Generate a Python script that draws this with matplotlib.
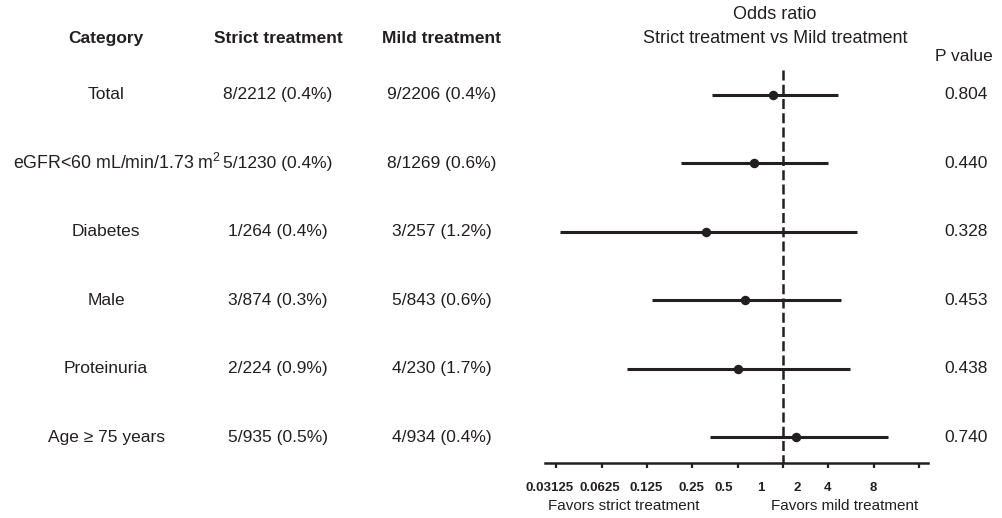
import numpy as np
import matplotlib.pyplot as plt
from matplotlib.transforms import blended_transform_factory

plt.rcParams['font.family'] = ['Liberation Sans', 'DejaVu Sans']
plt.rcParams['mathtext.default'] = 'regular'

ink = '#231f20'

categories = ['Total', 'eGFR<60 mL/min/1.73 m$^{2}$', 'Diabetes', 'Male',
              'Proteinuria', 'Age \u2265 75 years']
strict = ['8/2212 (0.4%)', '5/1230 (0.4%)', '1/264 (0.4%)', '3/874 (0.3%)',
          '2/224 (0.9%)', '5/935 (0.5%)']
mild = ['9/2206 (0.4%)', '8/1269 (0.6%)', '3/257 (1.2%)', '5/843 (0.6%)',
        '4/230 (1.7%)', '4/934 (0.4%)']
odds = [0.86, 0.64, 0.31, 0.56, 0.50, 1.23]
lower = [0.34, 0.21, 0.033, 0.135, 0.092, 0.33]
upper = [2.31, 1.98, 3.09, 2.43, 2.77, 4.96]
pvals = ['0.804', '0.440', '0.328', '0.453', '0.438', '0.740']

ticks = [2.0 ** k for k in range(-5, 4)]
tick_labels = ['0.03125', '0.0625', '0.125', '0.25', '0.5', '1', '2', '4', '8']
# labels in the original sit off their ticks (log2 units)
label_pos = [-5.14, -4.04, -3.02, -2.01, -1.30, -0.49, 0.31, 0.99, 1.99]

fig = plt.figure(figsize=(10.02, 5.18), dpi=100)
ax = fig.add_axes([545 / 1002, 55 / 518, 383 / 1002, 403 / 518])
ax.set_xscale('log', base=2)
ax.set_xlim(2 ** -5.25, 2 ** 3.2)
ax.set_ylim(5.38, -0.51)

y = np.arange(len(categories))
ax.hlines(y, lower, upper, color=ink, lw=2.2)
ax.plot(odds, y, 'o', color=ink, ms=5.8)
ax.plot([1, 1], [-0.37, 5.38], color=ink, lw=1.8, ls=(0, (4, 1.7)), clip_on=False)

for s in ['top', 'right', 'left']:
    ax.spines[s].set_visible(False)
ax.spines['bottom'].set_linewidth(1.8)
ax.spines['bottom'].set_color(ink)
ax.set_yticks([])
ax.set_xticks(ticks)
ax.set_xticklabels([])
ax.tick_params(axis='x', which='major', length=3.5, width=1.6, color=ink)
ax.set_xticks([2.0 ** p for p in label_pos], minor=True)
ax.set_xticklabels(tick_labels, minor=True, fontsize=9.5, fontweight='bold', color=ink)
ax.tick_params(axis='x', which='minor', length=0, pad=14)

tr = blended_transform_factory(fig.transFigure, ax.transData)
cols = [106 / 1002, 278 / 1002, 442 / 1002]
heads = ['Category', 'Strict treatment', 'Mild treatment']
for cx, h in zip(cols, heads):
    ax.text(cx, -0.82, h, transform=tr, ha='center', va='center',
            fontsize=12.5, fontweight='bold', color=ink)
for i in range(len(categories)):
    if i == 1:
        # the long eGFR label runs to the left edge
        ax.text(13 / 1002, y[i], categories[i], transform=tr, ha='left',
                va='center', fontsize=12.8, color=ink)
    else:
        ax.text(cols[0], y[i], categories[i], transform=tr, ha='center',
                va='center', fontsize=12.5, color=ink)
    for cx, t in zip(cols[1:], [strict[i], mild[i]]):
        ax.text(cx, y[i], t, transform=tr, ha='center', va='center',
                fontsize=12.5, color=ink)
    ax.text(966 / 1002, y[i], pvals[i], transform=tr, ha='center', va='center',
            fontsize=12.5, color=ink)

ax.text(775 / 1002, -1.17, 'Odds ratio', transform=tr, ha='center', va='center',
        fontsize=13, color=ink)
ax.text(775 / 1002, -0.82, 'Strict treatment vs Mild treatment', transform=tr,
        ha='center', va='center', fontsize=13, color=ink)
ax.text(964 / 1002, -0.556, 'P value', transform=tr, ha='center', va='center',
        fontsize=12.5, color=ink)

fig.text(624 / 1002, 1 - 506 / 518, 'Favors strict treatment', ha='center',
         va='center', fontsize=11, color=ink)
fig.text(845 / 1002, 1 - 506 / 518, 'Favors mild treatment', ha='center',
         va='center', fontsize=11, color=ink)

fig.savefig('out.png', dpi=100)
